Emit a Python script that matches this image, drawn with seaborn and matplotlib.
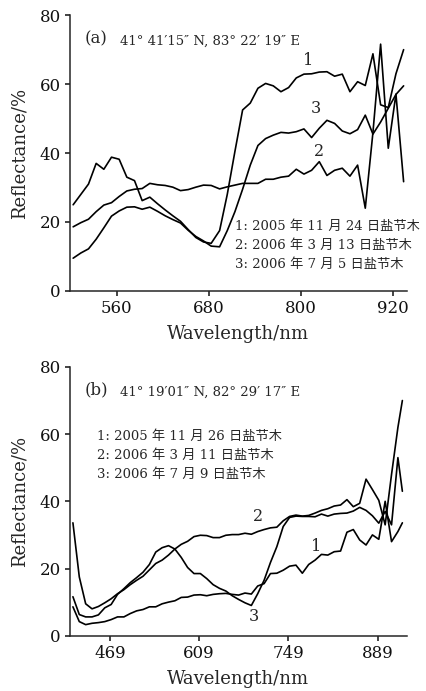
import matplotlib
matplotlib.use("Agg")
import matplotlib.pyplot as plt
import seaborn as sns
import pandas as pd

# ---- panel (a): 41°41'15"N, 83°22'19"E ----
wl_a = [503, 513, 523, 533, 543, 553, 563, 573, 583, 593, 603, 613, 623, 633,
        643, 653, 663, 673, 683, 694, 704, 714, 724, 734, 744, 754, 764, 774,
        784, 794, 804, 814, 824, 834, 844, 854, 864, 874, 884, 894, 904, 914,
        924, 934]
a_curve1 = [25.0, 28.0, 31.0, 37.0, 35.3, 38.8, 38.2, 33.0, 32.0, 26.2, 27.2, 25.3,
            23.5, 21.8, 20.2, 17.8, 15.5, 14.2, 13.8, 17.5, 28.0, 40.5, 52.5, 54.5,
            58.8, 60.2, 59.5, 57.8, 59.0, 61.8, 62.9, 63.0, 63.5, 63.6, 62.3, 62.9,
            57.8, 60.7, 59.6, 68.8, 54.0, 53.2, 63.0, 70.0]
a_curve2 = [18.6, 19.8, 20.8, 23.0, 24.9, 25.6, 27.4, 29.0, 29.5, 29.7, 31.2, 30.8,
            30.6, 30.1, 29.1, 29.4, 30.1, 30.7, 30.6, 29.6, 30.2, 30.7, 31.2, 31.2,
            31.2, 32.4, 32.4, 33.0, 33.3, 35.3, 33.9, 35.0, 37.5, 33.5, 35.0, 35.6,
            33.3, 36.5, 24.0, 46.0, 71.6, 41.4, 57.1, 31.7]
a_curve3 = [9.5, 11.0, 12.2, 15.0, 18.3, 21.7, 23.2, 24.3, 24.4, 23.7, 24.3, 23.1,
            21.8, 20.7, 19.7, 17.6, 15.8, 14.5, 13.0, 12.8, 17.5, 23.0, 29.5, 36.5,
            42.2, 44.2, 45.2, 46.0, 45.8, 46.2, 47.0, 44.5, 47.2, 49.5, 48.6, 46.4,
            45.6, 46.8, 51.0, 45.5, 49.0, 53.0, 57.0, 59.5]
a_ticks = [560, 680, 800, 920]
a_title = "(a)"
a_site = "41° 41′15″ N, 83° 22′ 19″ E"
a_legend = ["1: 2005 年 11 月 24 日盐节木",
            "2: 2006 年 3 月 13 日盐节木",
            "3: 2006 年 7 月 5 日盐节木"]

# ---- panel (b): 41°19'01"N, 82°29'17"E ----
wl_b = [411, 421, 431, 441, 451, 461, 471, 481, 491, 501, 511, 521, 531, 541,
        551, 561, 571, 581, 591, 601, 611, 621, 631, 641, 651, 661, 671, 681,
        691, 701, 711, 721, 731, 741, 751, 761, 771, 781, 791, 801, 811, 821,
        831, 841, 851, 861, 871, 881, 891, 901, 911, 921, 928]
b_curve1 = [8.6, 4.2, 3.3, 3.7, 3.9, 4.2, 4.8, 5.6, 5.6, 6.6, 7.4, 7.8, 8.6, 8.6,
            9.5, 10.0, 10.4, 11.4, 11.5, 12.1, 12.2, 11.9, 12.3, 12.5, 12.6, 12.3,
            12.1, 12.7, 12.4, 14.8, 15.5, 18.5, 18.6, 19.5, 20.7, 21.0, 18.6, 21.2,
            22.5, 24.2, 24.0, 25.0, 25.2, 30.8, 31.6, 28.5, 27.0, 30.0, 28.7, 40.0,
            28.0, 31.0, 33.6]
b_curve2 = [33.6, 17.5, 9.5, 8.0, 8.7, 9.8, 11.0, 12.5, 13.7, 15.2, 16.5, 17.7,
            19.6, 21.5, 22.5, 24.0, 25.8, 27.2, 28.1, 29.5, 29.9, 29.8, 29.2, 29.2,
            29.9, 30.1, 30.1, 30.5, 30.2, 31.0, 31.6, 32.1, 32.3, 34.2, 35.5, 35.9,
            35.6, 35.8, 36.5, 37.3, 37.8, 38.6, 38.9, 40.5, 38.4, 39.4, 46.6, 43.5,
            40.3, 33.0, 48.0, 62.0, 70.0]
b_curve3 = [11.6, 6.3, 5.6, 5.6, 6.2, 8.3, 9.3, 12.3, 14.0, 15.8, 17.3, 18.9,
            21.2, 24.9, 26.2, 26.8, 25.8, 23.3, 20.3, 18.5, 18.5, 17.0, 15.2, 14.1,
            13.3, 11.9, 10.8, 9.8, 9.0, 12.5, 16.5, 21.8, 26.5, 32.5, 35.2, 35.6,
            35.5, 35.5, 35.4, 36.2, 35.6, 36.2, 36.4, 36.5, 37.1, 38.2, 37.3, 35.7,
            33.5, 37.0, 33.0, 53.0, 43.0]
b_ticks = [469, 609, 749, 889]
b_title = "(b)"
b_site = "41° 19′01″ N, 82° 29′ 17″ E"
b_legend = ["1: 2005 年 11 月 26 日盐节木",
            "2: 2006 年 3 月 11 日盐节木",
            "3: 2006 年 7 月 9 日盐节木"]

curve_names = ["1", "2", "3"]
y_ticks = [0, 20, 40, 60, 80]


def long_table(wl, curves):
    frames = []
    for name, vals in zip(curve_names, curves):
        frames.append(pd.DataFrame({"wavelength": wl, "reflectance": vals,
                                    "curve": name}))
    return pd.concat(frames, ignore_index=True)


sns.set_style("ticks")
plt.rcParams["font.family"] = ["DejaVu Serif", "Noto Sans CJK SC"]
plt.rcParams["axes.linewidth"] = 1.1
plt.rcParams["xtick.major.width"] = 1.1
plt.rcParams["ytick.major.width"] = 1.1
plt.rcParams["xtick.major.size"] = 3.5
plt.rcParams["ytick.major.size"] = 3.5
plt.rcParams["xtick.color"] = "#111111"
plt.rcParams["ytick.color"] = "#111111"

fig = plt.figure(figsize=(4.26, 6.91), dpi=100)
ax_a = fig.add_axes([0.164, 0.579, 0.791, 0.399])
ax_b = fig.add_axes([0.164, 0.080, 0.791, 0.389])

CJK = ["DejaVu Serif", "Noto Sans CJK SC"]


def draw_panel(ax, wl, curves, ticks, xlim, title, site, legend, legend_xy,
               labels):
    data = long_table(wl, curves)
    sns.lineplot(data=data, x="wavelength", y="reflectance", hue="curve",
                 units="curve", estimator=None, sort=False,
                 palette=["black"] * 3, linewidth=1.2, legend=False, ax=ax)
    sns.despine(ax=ax)
    ax.set_xlim(*xlim)
    ax.set_ylim(0, 80)
    ax.set_xticks(ticks)
    ax.set_yticks(y_ticks)
    ax.tick_params(labelsize=12, pad=3)
    ax.set_xlabel("Wavelength/nm", fontsize=13, labelpad=6)
    ax.set_ylabel("Reflectance/%", fontsize=13, labelpad=8)
    ax.text(0.045, 0.915, title, transform=ax.transAxes, fontsize=12,
            va="center", ha="left")
    ax.text(0.148, 0.905, site, transform=ax.transAxes, fontsize=9.5,
            va="center", ha="left")
    lx, ly = legend_xy
    for i, line in enumerate(legend):
        ax.text(lx, ly - i * 0.07, line, transform=ax.transAxes,
                fontsize=9.5, va="center", ha="left", family=CJK)
    for text, x, y in labels:
        ax.text(x, y, text, fontsize=11.5, ha="center", va="center")


draw_panel(ax_a, wl_a, [a_curve1, a_curve2, a_curve3], a_ticks, (498.7, 938.2),
           a_title, a_site, a_legend, (0.49, 0.235),
           [("1", 809, 67), ("3", 820, 53), ("2", 823, 40.5)])
draw_panel(ax_b, wl_b, [b_curve1, b_curve2, b_curve3], b_ticks, (406.2, 935.0),
           b_title, b_site, b_legend, (0.08, 0.74),
           [("2", 701, 35.5), ("1", 792, 26.6), ("3", 695, 5.7)])

fig.savefig("out.png", dpi=100)
